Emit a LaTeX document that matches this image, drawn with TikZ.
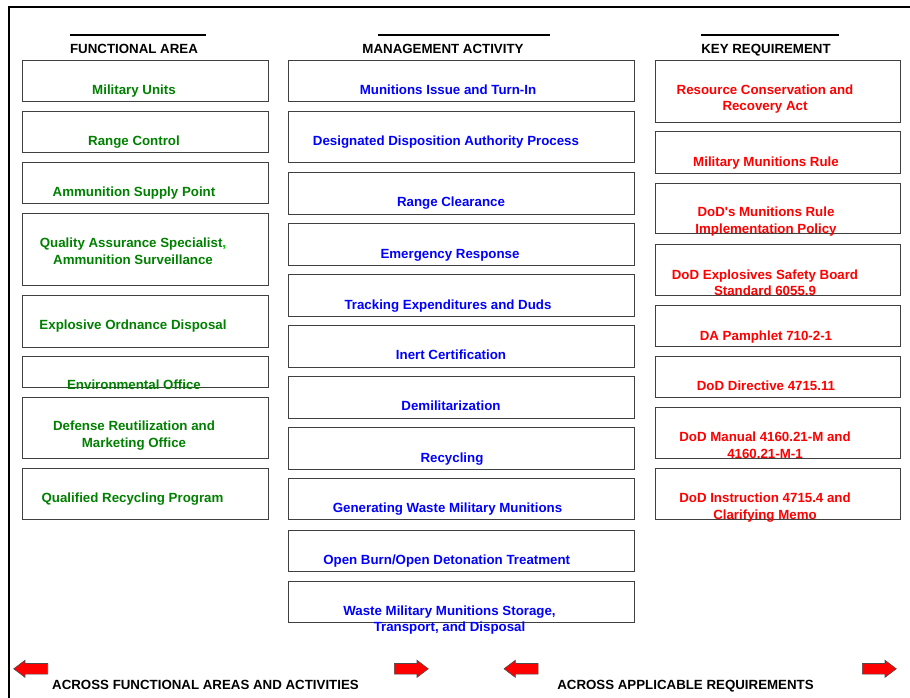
\documentclass[tikz,border=0pt]{standalone}
\usepackage{fontspec}
\setmainfont{Liberation Sans}
\usetikzlibrary{shapes.arrows}
\definecolor{areagreen}{RGB}{0,128,0}
\definecolor{commagreen}{RGB}{0,204,0}
\definecolor{actblue}{RGB}{0,0,255}
\definecolor{reqred}{RGB}{255,0,0}

\begin{document}
\begin{tikzpicture}[x=1pt,y=-1pt,
  cell/.style={draw=black!75,line width=0.9pt,anchor=north west,inner sep=0pt},
  lcell/.style={cell,minimum width=246pt},
  mcell/.style={cell,minimum width=346pt},
  rcell/.style={cell,minimum width=245pt},
  lbl/.style={anchor=north,inner sep=0pt,align=center,font=\fontsize{13.3}{16.4}\selectfont\bfseries},
  area/.style={lbl,text=areagreen},
  act/.style={lbl,text=actblue},
  req/.style={lbl,text=reqred},
  head/.style={lbl,text=black},
  arr/.style={single arrow,draw=black!70,fill=red,line width=0.6pt,inner sep=5pt,anchor=tail,
    minimum height=34pt,single arrow head extend=3.2pt,single arrow tip angle=74}]
\useasboundingbox (0,0) rectangle (910,698);
\draw[line width=1.7pt] (910,7.3) -| (9,698);

% column heads
\node[head] (fa) at (134,43.8) {FUNCTIONAL AREA};
\node[head] (ma) at (443,43.8) {MANAGEMENT ACTIVITY};
\node[head] (kr) at (766,43.8) {KEY REQUIREMENT};
\draw[line width=1.8pt] (70,35.3) -- (206,35.3);
\draw[line width=1.8pt] (378,35.3) -- (550,35.3);
\draw[line width=1.8pt] (701,35.3) -- (839,35.3);

% functional areas
\node[lcell,minimum height=41.5pt] (mu) at (22,60) {};
\node[lcell,minimum height=41.5pt] (rc) at (22,110.7) {};
\node[lcell,minimum height=41pt] (asp) at (22,162.3) {};
\node[lcell,minimum height=72pt] (qas) at (22,213) {};
\node[lcell,minimum height=51.5pt] (eod) at (22,295) {};
\node[lcell,minimum height=31pt] (env) at (22,356) {};
\node[lcell,minimum height=61.5pt] (drmo) at (22,396.7) {};
\node[lcell,minimum height=51pt] (qrp) at (22,468.3) {};
\node[area] (mu-t) at (134,84.7) {Military Units};
\node[area] (rc-t) at (134,136.1) {Range Control};
\node[area] (asp-t) at (134,187.1) {Ammunition Supply Point};
\node[area] (qas-t) at (133,238.1) {Quality Assurance Specialist{\color{commagreen},}\\ Ammunition Surveillance};
\node[area] (eod-t) at (133,319.7) {Explosive Ordnance Disposal};
\node[area] (env-t) at (134,379.9) {Environmental Office};
\node[area] (drmo-t) at (134,421.1) {Defense Reutilization and\\ Marketing Office};
\node[area] (qrp-t) at (132.5,493.1) {Qualified Recycling Program};

% management activities
\node[mcell,minimum height=41.5pt] (mit) at (288,60) {};
\node[mcell,minimum height=51pt] (dda) at (288,111) {};
\node[mcell,minimum height=41.5pt] (rcl) at (288,172) {};
\node[mcell,minimum height=41.5pt] (er) at (288,223) {};
\node[mcell,minimum height=41.5pt] (ted) at (288,274) {};
\node[mcell,minimum height=41.5pt] (ic) at (288,325) {};
\node[mcell,minimum height=41.5pt] (dem) at (288,376) {};
\node[mcell,minimum height=41.5pt] (rcy) at (288,427) {};
\node[mcell,minimum height=41pt] (gwm) at (288,478) {};
\node[mcell,minimum height=41pt] (obd) at (288,530) {};
\node[mcell,minimum height=41pt] (wmm) at (288,581) {};
\node[act] (mit-t) at (448,84.7) {Munitions Issue and Turn-In};
\node[act] (dda-t) at (446,136.1) {Designated Disposition Authority Process};
\node[act] (rcl-t) at (451,196.9) {Range Clearance};
\node[act] (er-t) at (450,248.9) {Emergency Response};
\node[act] (ted-t) at (448,299.9) {Tracking Expenditures and Duds};
\node[act] (ic-t) at (451,349.9) {Inert Certification};
\node[act] (dem-t) at (451,400.9) {Demilitarization};
\node[act] (rcy-t) at (452,452.9) {Recycling};
\node[act] (gwm-t) at (447.5,502.7) {Generating Waste Military Munitions};
\node[act] (obd-t) at (446.7,554.7) {Open Burn/Open Detonation Treatment};
\node[act] (wmm-t) at (449.5,605.7) {Waste Military Munitions Storage,\\ Transport, and Disposal};

% key requirements
\node[rcell,minimum height=62pt] (rcra) at (655,60) {};
\node[rcell,minimum height=41pt] (mmr) at (655,131.5) {};
\node[rcell,minimum height=50.7pt] (mrp) at (655,182.7) {};
\node[rcell,minimum height=51pt] (esb) at (655,244) {};
\node[rcell,minimum height=41pt] (dap) at (655,305) {};
\node[rcell,minimum height=41pt] (dir) at (655,356) {};
\node[rcell,minimum height=51pt] (man) at (655,407) {};
\node[rcell,minimum height=51pt] (ins) at (655,468.3) {};
\node[req] (rcra-t) at (765,84.4) {Resource Conservation and\\ Recovery Act};
\node[req] (mmr-t) at (766,157.1) {Military Munitions Rule};
\node[req] (mrp-t) at (766,207.1) {DoD\textquotesingle s Munitions Rule\\ Implementation Policy};
\node[req] (esb-t) at (765,269.4) {DoD Explosives Safety Board\\ Standard 6055.9};
\node[req] (dap-t) at (766,330.4) {DA Pamphlet 710-2-1};
\node[req] (dir-t) at (766,380.4) {DoD Directive 4715.11};
\node[req] (man-t) at (765,432.1) {DoD Manual 4160.21-M and\\ 4160.21-M-1};
\node[req] (ins-t) at (765,493.1) {DoD Instruction 4715.4 and\\ Clarifying Memo};

% arrows along the bottom
\node[arr,shape border rotate=180] (al1) at (48,668.8) {};
\node[arr] (ar1) at (394,668.8) {};
\node[arr,shape border rotate=180] (al2) at (538.3,668.8) {};
\node[arr] (ar2) at (862,668.8) {};
\node[head] (across1) at (205.5,680.5) {ACROSS FUNCTIONAL AREAS AND ACTIVITIES};
\node[head] (across2) at (685.5,680.5) {ACROSS APPLICABLE REQUIREMENTS};
\end{tikzpicture}
\end{document}
